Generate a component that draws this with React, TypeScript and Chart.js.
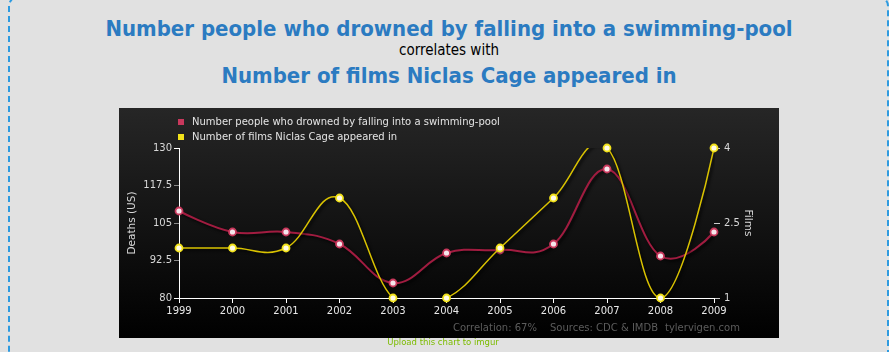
import React, { useEffect, useRef } from "react";
import { Chart, registerables } from "chart.js";

Chart.register(...registerables);

const years = ["1999", "2000", "2001", "2002", "2003", "2004", "2005", "2006", "2007", "2008", "2009"];
const drownings = [109, 102, 102, 98, 85, 95, 96, 98, 123, 94, 102];
const cageFilms = [2, 2, 2, 3, 1, 1, 2, 3, 4, 1, 4];
const deathTicks = [80, 92.5, 105, 117.5, 130];
const filmTicks = [1, 2.5, 4];

const drownLabel = "Number people who drowned by falling into a swimming-pool";
const filmLabel = "Number of films Niclas Cage appeared in";
const footerParts = ["Correlation: 67%", "Sources: CDC & IMDB", "tylervigen.com"];

const FONT = '"DejaVu Sans", sans-serif';
const RED_LINE = "#a11c40";
const RED_MARK = "#c8385c";
const YEL_LINE = "#d9c200";
const YEL_MARK = "#f2e21a";

// Spline control points in the style of a classic "spline" series (smoothing 1.5)
function applySpline(pts: any[]) {
  const n = pts.length;
  const smoothing = 1.5;
  const denom = smoothing + 1;
  for (let i = 0; i < n; i++) {
    const p = pts[i];
    if (i === 0 || i === n - 1) {
      p.cp1x = p.x;
      p.cp1y = p.y;
      p.cp2x = p.x;
      p.cp2y = p.y;
      continue;
    }
    const a = pts[i - 1];
    const b = pts[i + 1];
    const lx = (smoothing * p.x + a.x) / denom;
    let ly = (smoothing * p.y + a.y) / denom;
    const rx = (smoothing * p.x + b.x) / denom;
    let ry = (smoothing * p.y + b.y) / denom;
    const corr = ((ry - ly) * (rx - p.x)) / (rx - lx) + p.y - ry;
    ly += corr;
    ry += corr;
    p.cp1x = lx;
    p.cp1y = ly;
    p.cp2x = rx;
    p.cp2y = ry;
  }
}

function ChartBox() {
  const ref = useRef<HTMLCanvasElement | null>(null);
  useEffect(() => {
    const canvas = ref.current;
    if (!canvas) return;

    const linePlugin = {
      id: "lineStyle",
      beforeDatasetDraw(chart: any, args: any) {
        const ds = chart.data.datasets[args.index];
        chart.ctx.save();
        if (ds.isLine) {
          const meta = args.meta;
          meta.dataset.updateControlPoints(chart.chartArea, "x");
          applySpline(meta.data);
          chart.ctx.shadowColor = "rgba(0,0,0,0.85)";
          chart.ctx.shadowBlur = 3;
          chart.ctx.shadowOffsetX = 2;
          chart.ctx.shadowOffsetY = 2;
        }
      },
      afterDatasetDraw(chart: any) {
        chart.ctx.restore();
      },
    };

    const overlayPlugin = {
      id: "overlay",
      afterDraw(chart: any) {
        const ctx = chart.ctx;
        ctx.save();
        ctx.font = "10px " + FONT;
        ctx.textBaseline = "middle";
        ctx.textAlign = "left";
        const items = [
          { text: drownLabel, color: RED_MARK },
          { text: filmLabel, color: YEL_MARK },
        ];
        items.forEach((it, i) => {
          const cy = 14 + i * 15;
          ctx.fillStyle = it.color;
          ctx.fillRect(59, cy - 3, 6, 6);
          ctx.fillStyle = "#e4e4e4";
          ctx.fillText(it.text, 73, cy + 0.5);
        });
        ctx.fillStyle = "#5c5c5c";
        const xs = [334, 431, 546];
        footerParts.forEach((t, i) => ctx.fillText(t, xs[i], 220));
        ctx.restore();
      },
    };

    const chart = new Chart(canvas, {
      type: "line",
      data: {
        labels: years,
        datasets: [
          {
            label: filmLabel + " markers",
            data: cageFilms,
            yAxisID: "y2",
            showLine: false,
            pointRadius: 3.5,
            pointBorderWidth: 1.8,
            pointBackgroundColor: "#fffbe8",
            pointBorderColor: YEL_MARK,
            clip: false,
            order: 0,
          } as any,
          {
            label: filmLabel,
            data: cageFilms,
            yAxisID: "y2",
            isLine: true,
            borderColor: YEL_LINE,
            borderWidth: 1.5,
            pointRadius: 0,
            tension: 0.4,
            order: 1,
          } as any,
          {
            label: drownLabel + " markers",
            data: drownings,
            yAxisID: "y",
            showLine: false,
            pointRadius: 3.5,
            pointBorderWidth: 1.8,
            pointBackgroundColor: "#f6e6ec",
            pointBorderColor: RED_MARK,
            clip: false,
            order: 2,
          } as any,
          {
            label: drownLabel,
            data: drownings,
            yAxisID: "y",
            isLine: true,
            borderColor: RED_LINE,
            borderWidth: 2,
            pointRadius: 0,
            tension: 0.4,
            order: 3,
          } as any,
        ],
      },
      options: {
        responsive: false,
        animation: false,
        events: [],
        layout: { padding: { top: 40, left: 0, right: 0, bottom: 0 } },
        elements: { line: { capBezierPoints: false } },
        plugins: {
          legend: { display: false },
          tooltip: { enabled: false },
          title: { display: false },
        },
        scales: {
          x: {
            type: "category",
            offset: false,
            grid: { display: true, drawOnChartArea: false, tickLength: 5, color: "#ffffff" },
            border: { color: "#ffffff", width: 1 },
            ticks: {
              color: "#e8e8e8",
              font: { family: FONT, size: 10 },
              padding: 2,
              maxRotation: 0,
              autoSkip: false,
            },
            afterFit: (s: any) => {
              s.height = 40;
            },
          },
          y: {
            position: "left",
            min: deathTicks[0],
            max: deathTicks[deathTicks.length - 1],
            afterBuildTicks: (s: any) => {
              s.ticks = deathTicks.map((v) => ({ value: v }));
            },
            grid: {
              drawOnChartArea: false,
              tickLength: 5,
              color: (c: any) =>
                c.index === 0 || c.index === deathTicks.length - 1 ? "#ffffff" : "#8a8a8a",
              lineWidth: 1,
            },
            border: { color: "#ffffff", width: 1 },
            ticks: {
              color: "#d8d8d8",
              font: { family: FONT, size: 10 },
              padding: 2,
              callback: (v: any) => String(v),
            },
            title: {
              display: true,
              text: "Deaths (US)",
              color: "#d8d8d8",
              font: { family: FONT, size: 10.5 },
              padding: { top: 7, bottom: 0 },
            },
            afterFit: (s: any) => {
              s.width = 60;
            },
          },
          y2: {
            position: "right",
            min: filmTicks[0],
            max: filmTicks[filmTicks.length - 1],
            afterBuildTicks: (s: any) => {
              s.ticks = filmTicks.map((v) => ({ value: v }));
            },
            grid: { drawOnChartArea: false, tickLength: 6, color: "#cccccc", lineWidth: 1 },
            border: { display: false },
            ticks: {
              color: "#d8d8d8",
              font: { family: FONT, size: 10 },
              padding: 4,
              callback: (v: any) => String(v),
            },
            title: {
              display: true,
              text: "Films",
              color: "#d8d8d8",
              font: { family: FONT, size: 10.5 },
              padding: { top: 25, bottom: 0 },
            },
            afterFit: (s: any) => {
              s.width = 65;
            },
          },
        },
      } as any,
      plugins: [linePlugin, overlayPlugin],
    });
    return () => chart.destroy();
  }, []);

  return (
    <canvas
      ref={ref}
      width={660}
      height={230}
      style={{
        position: "absolute",
        left: 119,
        top: 108,
        width: 660,
        height: 230,
        display: "block",
        background: "linear-gradient(to bottom, #262626 0%, #111111 55%, #000000 100%)",
      }}
    />
  );
}

export default function App() {
  const titleFont = '"DejaVu Sans Condensed", "DejaVu Sans", sans-serif';
  const center = (top: number, size: number, color: string, bold: boolean, text: string) => (
    <div
      style={{
        position: "absolute",
        left: 0,
        width: 898,
        top,
        textAlign: "center",
        fontFamily: titleFont,
        fontStretch: "condensed",
        fontSize: size,
        lineHeight: size + "px",
        fontWeight: bold ? "bold" : "normal",
        color,
        whiteSpace: "nowrap",
      }}
    >
      {text}
    </div>
  );
  return (
    <div
      style={{
        position: "fixed",
        left: 0,
        top: 0,
        width: 889,
        height: 352,
        background: "#e1e1e1",
        overflow: "hidden",
      }}
    >
      <div
        style={{
          position: "absolute",
          left: 8,
          top: -4,
          width: 881,
          height: 420,
          boxSizing: "border-box",
          border: "2px dashed #2e9be0",
          borderRadius: 10,
        }}
      />
      {center(17.5, 22, "#2b7bc1", true, drownLabel)}
      {center(43, 15, "#000000", false, "correlates with")}
      {center(64.5, 22, "#2b7bc1", true, filmLabel)}
      <ChartBox />
      <div
        style={{
          position: "absolute",
          left: 0,
          width: 886,
          top: 338,
          textAlign: "center",
          fontFamily: FONT,
          fontSize: 8.5,
          lineHeight: "9px",
          color: "#7cbc00",
          whiteSpace: "nowrap",
        }}
      >
        Upload this chart to imgur
      </div>
    </div>
  );
}
